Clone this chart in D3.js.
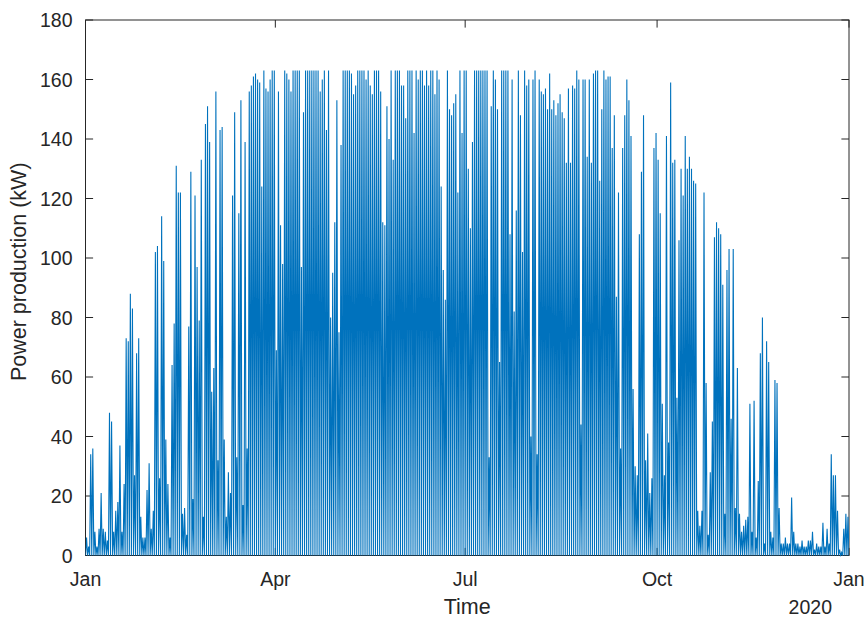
<!DOCTYPE html>
<html>
<head>
<meta charset="utf-8">
<script src="https://cdn.jsdelivr.net/npm/d3@7"></script>
<style>
  body { margin: 0; background: #fff; }
  svg { display: block; font-family: "Liberation Sans", Arial, Helvetica, sans-serif; }
</style>
</head>
<body>
<svg id="chart" width="867" height="618"></svg>
<script>
// daily peak power (kW), one value per day of 2020
var janToMar = [6,3,34,36,8,3,9,21,9,8, 5,48,45,8,15,18,37,8,24,73,
    72,88,83,27,68,73,13,6,6,22, 31,9,15,102,104,26,114,99,39,24,
    6,64,78,131,122,122,14,16,7,77, 129,19,121,97,79,133,13,145,151,139,
    55,63,156,32,143,144,
    39,13,28,21,121,149,33,115,153,17, 139,36,156,158,161,162,160,159,124,163];
var aprToJun = [157,156,160,163,163,69,156,111,98,163, 162,160,156,163,163,163,163,97,149,163,
    163,163,163,163,163,163,156,160,163,143, 163,80,95,112,153,75,138,163,163,163,
    163,162,155,158,163,163,163,163,160,163, 158,155,163,163,163,156,112,111,151,140,
    163,133,163,163,163,158,158,147,163,163, 163,142,163,160,163,163,158,163,158,163,
    163,155,163,160,124,96,86,163,150,148, 152,155,122,163,142,163,163,130,110,139,
    163,163];
var julToSep = [163,163,163,163,163,33,151,163,160,150, 65,163,163,163,163,108,160,82,116,163,
    148,102,163,158,160,40,160,163,34,160, 156,155,157,150,162,150,153,148,152,155,
    149,147,132,157,132,158,157,163,160,44, 160,160,134,160,132,162,163,163,126,150,
    163,160,
    161,161,137,148,87,122,36,137,148,160, 153,141,56,30,27,108,129,148,32,41];
var octToDec = [21,26,137,142,133,115,51,27,141,38, 159,132,133,53,106,130,121,141,130,134,
    130,126,125,15,10,15,122,58,7,28, 45,107,112,110,108,91,14,
    96,103,46,103,16,63,14,8,10,12, 13,51,8,52,6,25,68,80,4,72,
    65,8,6,59,58,16,4,4,6,4, 4,19.5,8,4,4,3,5,3,3,5,
    5,8,2,4,3,3,11,3,9,4, 34,27,27,15,2,1,9,14,13];
var dailyPeak = janToMar.concat(aprToJun, julToSep, octToDec);

var yearStart = new Date(Date.UTC(2020, 0, 1));
var yearEnd = new Date(Date.UTC(2021, 0, 1));
var yTicks = [0, 20, 40, 60, 80, 100, 120, 140, 160, 180];
var xLabel = "Time";
var yLabel = "Power production (kW)";
var yearLabel = "2020";

var margin = {top: 20, right: 18, bottom: 62.5, left: 85.5};
var width = 867 - margin.left - margin.right;
var height = 618 - margin.top - margin.bottom;
var tickLen = 7.6;
var axisColor = "#262626";
var lineColor = "#0072BD";

// night hours are zero, the day's peak sits at noon
var points = [];
dailyPeak.forEach(function(peak, i) {
    var day = d3.utcDay.offset(yearStart, i);
    points.push({t: day, v: 0});
    points.push({t: d3.utcHour.offset(day, 12), v: peak});
});
points.push({t: yearEnd, v: 0});

var x = d3.scaleUtc().domain([yearStart, yearEnd]).range([0, width]);
var y = d3.scaleLinear().domain([0, 180]).range([height, 0]);

var svg = d3.select("#chart");
var g = svg.append("g")
    .attr("transform", "translate(" + margin.left + "," + margin.top + ")");

g.append("clipPath").attr("id", "plotClip")
    .append("rect").attr("x", 0).attr("y", -1).attr("width", width).attr("height", height + 2);

// axes drawn first so the data lies over them (MATLAB layer bottom)
var xTicks = x.ticks(d3.utcMonth.every(3));
var fmt = d3.utcFormat("%b");

var axes = g.append("g").attr("id", "axes");
axes.append("rect")
    .attr("x", 0).attr("y", 0)
    .attr("width", width).attr("height", height)
    .attr("fill", "none")
    .attr("stroke", axisColor)
    .attr("stroke-width", 1);

axes.selectAll("line.ytl")
    .data(yTicks).enter().append("line")
    .attr("class", "ytl")
    .attr("x1", 0).attr("x2", tickLen)
    .attr("y1", function(d) { return y(d); }).attr("y2", function(d) { return y(d); })
    .attr("stroke", axisColor);
axes.selectAll("line.ytr")
    .data(yTicks).enter().append("line")
    .attr("class", "ytr")
    .attr("x1", width - tickLen).attr("x2", width)
    .attr("y1", function(d) { return y(d); }).attr("y2", function(d) { return y(d); })
    .attr("stroke", axisColor);
axes.selectAll("line.xtt")
    .data(xTicks).enter().append("line")
    .attr("class", "xtt")
    .attr("x1", function(d) { return x(d); }).attr("x2", function(d) { return x(d); })
    .attr("y1", 0).attr("y2", tickLen)
    .attr("stroke", axisColor);
axes.selectAll("line.xtb")
    .data(xTicks).enter().append("line")
    .attr("class", "xtb")
    .attr("x1", function(d) { return x(d); }).attr("x2", function(d) { return x(d); })
    .attr("y1", height - tickLen).attr("y2", height)
    .attr("stroke", axisColor);

axes.selectAll("text.ylab")
    .data(yTicks).enter().append("text")
    .attr("class", "ylab")
    .attr("x", -13)
    .attr("y", function(d) { return y(d); })
    .attr("dy", "0.36em")
    .attr("text-anchor", "end")
    .attr("font-size", 19.5)
    .attr("fill", axisColor)
    .text(function(d) { return d; });

axes.selectAll("text.xlab")
    .data(xTicks).enter().append("text")
    .attr("class", "xlab")
    .attr("x", function(d) { return x(d); })
    .attr("y", height + 30)
    .attr("text-anchor", "middle")
    .attr("font-size", 19.5)
    .attr("fill", axisColor)
    .text(function(d) { return fmt(d); });

axes.append("text")
    .attr("x", width - 17)
    .attr("y", height + 58)
    .attr("text-anchor", "end")
    .attr("font-size", 19.5)
    .attr("fill", axisColor)
    .text(yearLabel);

axes.append("text")
    .attr("x", width / 2)
    .attr("y", height + 58)
    .attr("text-anchor", "middle")
    .attr("font-size", 21.5)
    .attr("fill", axisColor)
    .text(xLabel);

axes.append("text")
    .attr("transform", "translate(" + (-60) + "," + (height / 2 - 16) + ") rotate(-90)")
    .attr("text-anchor", "middle")
    .attr("font-size", 21.5)
    .attr("fill", axisColor)
    .text(yLabel);

var line = d3.line()
    .x(function(d) { return x(d.t); })
    .y(function(d) { return y(d.v); });

g.append("path")
    .datum(points)
    .attr("clip-path", "url(#plotClip)")
    .attr("fill", "none")
    .attr("stroke", lineColor)
    .attr("stroke-width", 1.1)
    .attr("stroke-linejoin", "miter")
    .attr("d", line);
</script>
</body>
</html>
